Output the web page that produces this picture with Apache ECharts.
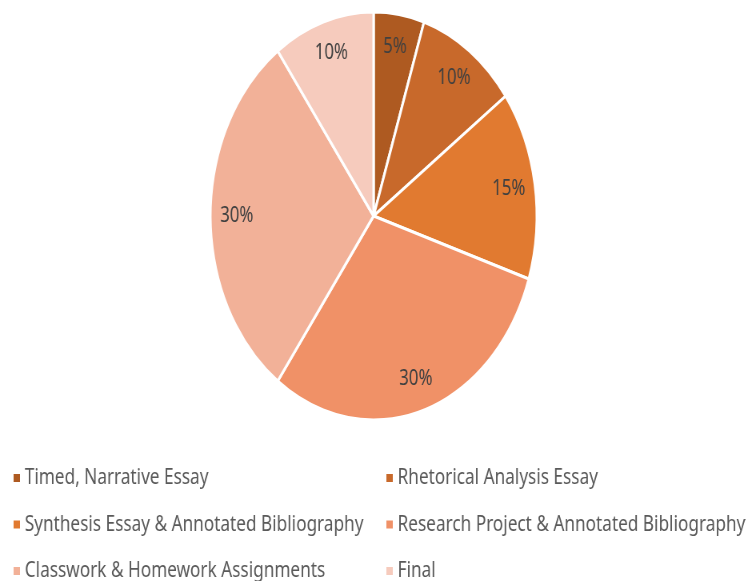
<!DOCTYPE html>
<html>
<head>
<meta charset="utf-8">
<script src="https://cdn.jsdelivr.net/npm/echarts@6/dist/echarts.min.js"></script>
<style>
  html, body { margin: 0; padding: 0; background: #fff; overflow: hidden; }
  /* the reference is squeezed sideways (round pie became an ellipse), so draw wide and squeeze */
  #chart { width: 932px; height: 581px; transform: scaleX(0.8); transform-origin: 0 0; }
</style>
</head>
<body>
<div id="chart"></div>
<script>
const categories = [
  'Timed, Narrative Essay',
  'Rhetorical Analysis Essay',
  'Synthesis Essay & Annotated Bibliography',
  'Research Project & Annotated Bibliography',
  'Classwork & Homework Assignments',
  'Final'
];
const values = [5, 10, 15, 30, 30, 10];
const colors = ['#AE5A21', '#C8692B', '#E17A30', '#F09167', '#F2B198', '#F6CBBD'];

const data = categories.map((name, i) => ({
  name: name,
  value: values[i],
  itemStyle: { color: colors[i] }
}));

const legendCommon = {
  orient: 'vertical',
  top: 467,
  height: 160,
  padding: 0,
  icon: 'rect',
  itemWidth: 10,
  itemHeight: 10,
  itemGap: 24.5,
  selectedMode: false,
  textStyle: {
    fontFamily: 'Noto Sans',
    fontSize: 21.5,
    lineHeight: 20,
    color: '#595959'
  }
};

const chart = echarts.init(document.getElementById('chart'));
chart.setOption({
  animation: false,
  color: colors,
  legend: [
    Object.assign({}, legendCommon, { left: 15, data: [categories[0], categories[2], categories[4]] }),
    Object.assign({}, legendCommon, { left: 481, data: [categories[1], categories[3], categories[5]] })
  ],
  series: [
    {
      type: 'pie',
      center: [467, 216],
      radius: [0, 204],
      startAngle: 90,
      clockwise: true,
      label: { show: false },
      labelLine: { show: false },
      itemStyle: { borderColor: '#fff', borderWidth: 3 },
      emphasis: { disabled: true },
      data: data
    },
    {
      // transparent ring only used to place labels out near the rim
      type: 'pie',
      center: [467, 216],
      radius: [132, 204],
      startAngle: 90,
      clockwise: true,
      silent: true,
      itemStyle: { color: 'rgba(0,0,0,0)', borderWidth: 0 },
      label: {
        show: true,
        position: 'inside',
        formatter: '{d}%',
        fontFamily: 'Noto Sans',
        fontSize: 21,
        color: '#404040'
      },
      labelLine: { show: false },
      emphasis: { disabled: true },
      data: categories.map((name, i) => ({ name: name, value: values[i] }))
    }
  ]
});
</script>
</body>
</html>
